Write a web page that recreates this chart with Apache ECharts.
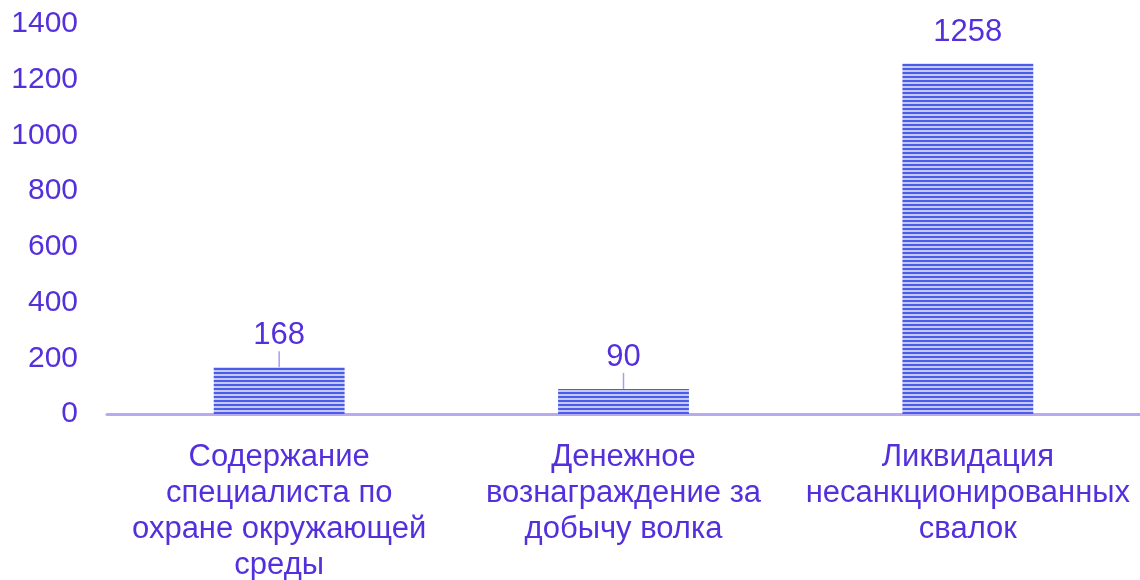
<!DOCTYPE html>
<html>
<head>
<meta charset="utf-8">
<script src="https://cdn.jsdelivr.net/npm/echarts@6/dist/echarts.min.js"></script>
<style>
  html, body { margin: 0; padding: 0; background: #fff; }
  #chart { width: 1140px; height: 580px; }
</style>
</head>
<body>
<div id="chart"></div>
<script>
  // данные
  var categories = [
    'Содержание\nспециалиста по\nохране окружающей\nсреды',
    'Денежное\nвознаграждение за\nдобычу волка',
    'Ликвидация\nнесанкционированных\nсвалок'
  ];
  var values = [168, 90, 1258];
  var showGuide = [true, true, false];
  var yTicks = [0, 200, 400, 600, 800, 1000, 1200, 1400];

  var textColor = '#5430dc';
  var font = 'Liberation Sans, Arial, sans-serif';

  // полосатая заливка столбцов
  var stripe = document.createElement('canvas');
  stripe.width = 4; stripe.height = 4;
  var ctx = stripe.getContext('2d');
  ctx.fillStyle = '#c3c8f7';
  ctx.fillRect(0, 0, 4, 4);
  ctx.fillStyle = '#4a5ce8';
  ctx.fillRect(0, 0, 4, 2);

  var chart = echarts.init(document.getElementById('chart'));
  var option = {
    animation: false,
    grid: { left: 107, right: 0, top: 24, bottom: 166, outerBoundsMode: 'none' },
    xAxis: {
      type: 'category',
      data: categories,
      axisLine: { show: true, lineStyle: { color: '#b8aaf0', width: 3 } },
      axisTick: { show: false },
      axisLabel: {
        color: textColor, fontSize: 31, fontFamily: font,
        lineHeight: 36, margin: 25, interval: 0
      }
    },
    yAxis: {
      type: 'value',
      min: yTicks[0],
      max: yTicks[yTicks.length - 1],
      interval: 200,
      splitLine: { show: false },
      axisLine: { show: false },
      axisTick: { show: false },
      axisLabel: {
        color: textColor, fontSize: 30, fontFamily: font, margin: 29,
        formatter: function (v) { return String(v); }
      }
    },
    series: [{
      type: 'bar',
      data: values.map(function (v, i) {
        return { value: v, labelLine: { show: showGuide[i] } };
      }),
      barWidth: '38%',
      itemStyle: { color: { image: stripe, repeat: 'repeat' } },
      label: {
        show: true, position: 'top', distance: 8,
        color: textColor, fontSize: 31, fontFamily: font
      },
      labelLayout: { dy: -8 },
      labelLine: { show: true, lineStyle: { color: '#a99cf0', width: 1.5 } }
    }]
  };
  chart.setOption(option);
</script>
</body>
</html>
